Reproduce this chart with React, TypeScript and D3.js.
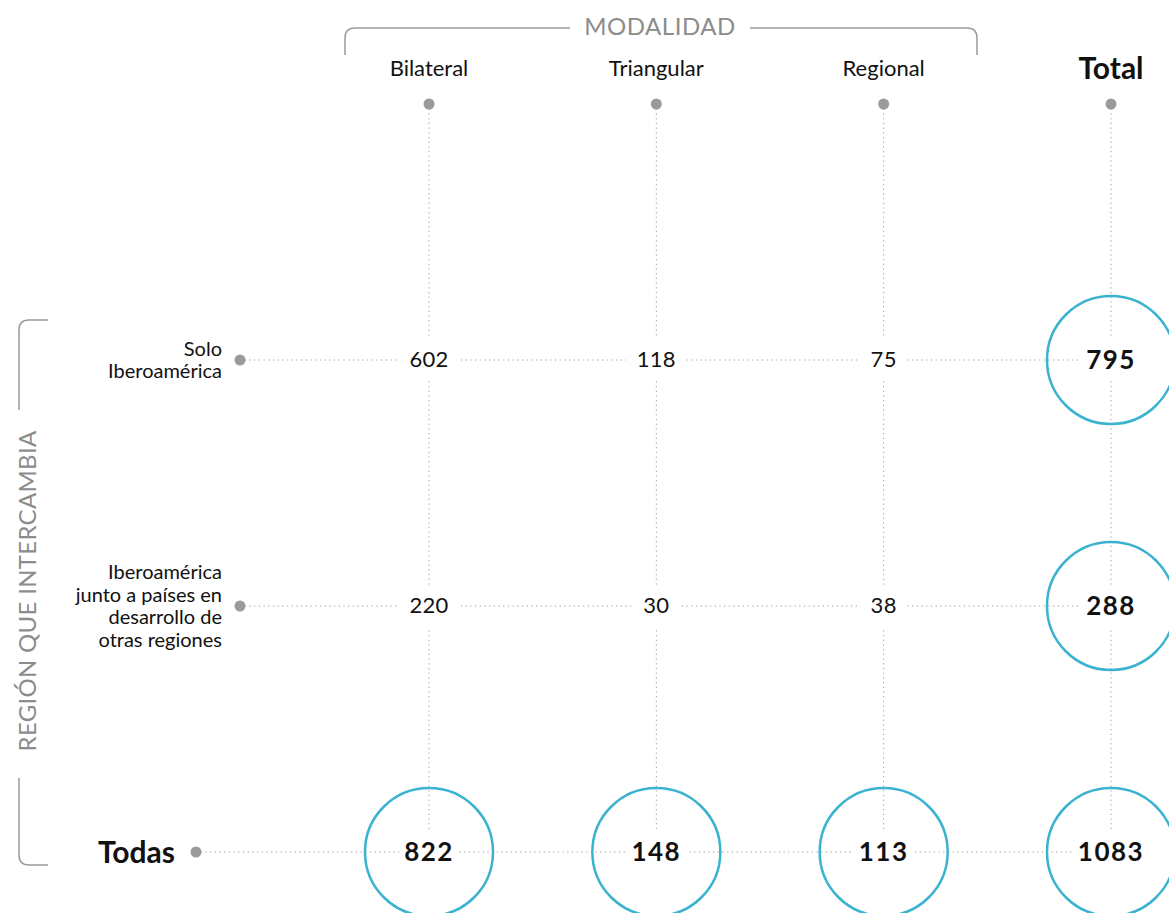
import React from "react";
import * as d3 from "d3";

const columns = ["Bilateral", "Triangular", "Regional", "Total"];
const rowLabels = [
  ["Solo", "Iberoamérica"],
  ["Iberoamérica", "junto a países en", "desarrollo de", "otras regiones"],
  ["Todas"],
];
const rowKeys = ["solo", "junto", "todas"];
const soloValues = [602, 118, 75, 795];
const juntoValues = [220, 30, 38, 288];
const todasValues = [822, 148, 113, 1083];
const valueRows = [soloValues, juntoValues, todasValues];
const modalidadTitle = "MODALIDAD";
const regionTitle = "REGIÓN QUE INTERCAMBIA";

const W = 1169;
const H = 913;
const FONT = "Lato, 'Open Sans', sans-serif";
const GRAY = "#9a9a9a";
const BLUE = "#3bb3d0";

export default function App() {
  const x = d3.scalePoint<string>().domain(columns).range([429, 1111]);
  const y = d3.scalePoint<string>().domain(rowKeys).range([360, 852]);
  const headerY = 104;
  const r = 64;

  const rowDotX = (i: number) => (i === rowKeys.length - 1 ? 196 : 240);

  return (
    <svg
      width={W}
      height={H}
      style={{ position: "absolute", left: 0, top: 0, background: "#fff" }}
      fontFamily={FONT}
    >
      {/* top bracket */}
      <path
        d="M345,55 V38 Q345,28 355,28 H570"
        fill="none"
        stroke={GRAY}
        strokeWidth={1.5}
      />
      <path
        d="M750,28 H967 Q977,28 977,38 V55"
        fill="none"
        stroke={GRAY}
        strokeWidth={1.5}
      />
      <text
        x={660}
        y={35}
        textAnchor="middle"
        fontSize={24}
        fill="#8c8c8c"
        letterSpacing={0.5}
      >
        {modalidadTitle}
      </text>

      {/* left bracket */}
      <path
        d="M48,320 H29 Q19,320 19,330 V410"
        fill="none"
        stroke={GRAY}
        strokeWidth={1.5}
      />
      <path
        d="M19,778 V855 Q19,865 29,865 H48"
        fill="none"
        stroke={GRAY}
        strokeWidth={1.5}
      />
      <text
        transform={`translate(36,591) rotate(-90)`}
        textAnchor="middle"
        fontSize={24}
        fill="#8c8c8c"
        letterSpacing={0.3}
      >
        {regionTitle}
      </text>

      {/* column headers */}
      {columns.map((c, j) => {
        const isTotal = j === columns.length - 1;
        return (
          <g key={c}>
            <text
              x={x(c)}
              y={isTotal ? 79 : 76}
              textAnchor="middle"
              fontSize={isTotal ? 30 : 22}
              fontWeight={isTotal ? 700 : 400}
              fill="#111"
            >
              {c}
            </text>
            <line
              x1={x(c)}
              x2={x(c)}
              y1={headerY}
              y2={y(rowKeys[rowKeys.length - 1])}
              stroke={GRAY}
              strokeWidth={1}
              strokeDasharray="1.2 3.5"
            />
            <circle cx={x(c)} cy={headerY} r={5.5} fill={GRAY} />
          </g>
        );
      })}

      {/* row headers and lines */}
      {rowKeys.map((k, i) => {
        const isTodas = i === rowKeys.length - 1;
        const lines = rowLabels[i];
        const lh = 22.5;
        const cy = y(k) as number;
        const dx = rowDotX(i);
        return (
          <g key={k}>
            <line
              x1={dx}
              x2={x(columns[columns.length - 1])}
              y1={cy}
              y2={cy}
              stroke={GRAY}
              strokeWidth={1}
              strokeDasharray="1.2 3.5"
            />
            <circle cx={dx} cy={cy} r={5.5} fill={GRAY} />
            {isTodas ? (
              <text
                x={175}
                y={cy + 11}
                textAnchor="end"
                fontSize={30}
                fontWeight={700}
                fill="#111"
              >
                {lines[0]}
              </text>
            ) : (
              <text x={222} textAnchor="end" fontSize={20} fill="#111">
                {lines.map((t, li) => (
                  <tspan
                    key={li}
                    x={222}
                    y={cy + 7 + (li - (lines.length - 1) / 2) * lh}
                  >
                    {t}
                  </tspan>
                ))}
              </text>
            )}
          </g>
        );
      })}

      {/* cells */}
      {valueRows.map((vals, i) =>
        vals.map((v, j) => {
          const cx = x(columns[j]) as number;
          const cy = y(rowKeys[i]) as number;
          const big = i === rowKeys.length - 1 || j === columns.length - 1;
          const label = String(v);
          const charW = big ? 16.5 : 13.5;
          const tw = label.length * charW;
          const padX = big ? 5 : 10;
          return (
            <g key={`${i}-${j}`}>
              {big && (
                <circle
                  cx={cx}
                  cy={cy}
                  r={r}
                  fill="none"
                  stroke={BLUE}
                  strokeWidth={2.5}
                />
              )}
              <rect
                x={cx - tw / 2 - padX}
                y={cy - 21}
                width={tw + padX * 2}
                height={42}
                fill="#fff"
              />
              <text
                x={cx}
                y={cy + (big ? 9 : 7)}
                textAnchor="middle"
                fontSize={big ? 26 : 22}
                fontWeight={big ? 700 : 400}
                letterSpacing={big ? 1.5 : 0.3}
                fill="#111"
              >
                {label}
              </text>
            </g>
          );
        })
      )}
    </svg>
  );
}
